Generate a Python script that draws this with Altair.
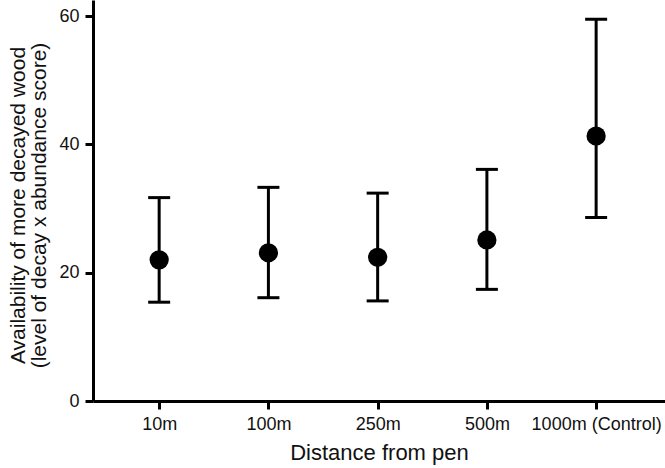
import altair as alt
import pandas as pd

# Distance classes and the decayed-wood score (mean with interval bounds)
categories = ["10m", "100m", "250m", "500m", "1000m (Control)"]
means = [22.0, 23.1, 22.4, 25.1, 41.3]
lower = [15.4, 16.1, 15.6, 17.4, 28.6]
upper = [31.7, 33.3, 32.4, 36.1, 59.5]

df = pd.DataFrame({"distance": categories, "mean": means, "low": lower, "high": upper})

FONT = "Liberation Sans"

x_enc = alt.X(
    "distance:O",
    sort=categories,
    scale=alt.Scale(type="point", padding=0.618, align=0.49),
    axis=alt.Axis(
        title="Distance from pen",
        labelAngle=0,
        labelFontSize=18,
        labelPadding=6,
        titleFontSize=22,
        titlePadding=9,
        titleFontWeight="normal",
    ),
)

y_scale = alt.Scale(domain=[0, 62.5], nice=False)
y_axis = alt.Axis(
    title=["Availability of more decayed wood", "(level of decay x abundance score)"],
    values=[0, 20, 40, 60],
    labelFontSize=18,
    labelPadding=6,
    titleFontSize=21,
    titleFontWeight="normal",
    titlePadding=9,
    titleLineHeight=21,
    titleY=205,
)

base = alt.Chart(df)

bars = base.mark_rule(color="black", strokeWidth=3).encode(
    x=x_enc,
    y=alt.Y("low:Q", scale=y_scale, axis=y_axis),
    y2="high:Q",
)

cap_low = base.mark_tick(color="black", size=22, thickness=3, opacity=1).encode(
    x=alt.X("distance:O", sort=categories), y=alt.Y("low:Q")
)
cap_high = base.mark_tick(color="black", size=22, thickness=3, opacity=1).encode(
    x=alt.X("distance:O", sort=categories), y=alt.Y("high:Q")
)

dots = base.mark_circle(color="black", size=370, opacity=1).encode(
    x=alt.X("distance:O", sort=categories), y=alt.Y("mean:Q")
)

chart = (
    alt.layer(bars, cap_low, cap_high, dots)
    .properties(
        width=572,
        height=401,
        padding={"left": 93, "top": 0, "right": 0, "bottom": 67},
        autosize=alt.AutoSizeParams(type="none"),
        background="white",
    )
    .configure_view(stroke=None)
    .configure_axis(
        grid=False,
        domainColor="black",
        domainWidth=3,
        tickColor="black",
        tickWidth=3,
        tickSize=8,
        labelColor="#111111",
        titleColor="#111111",
        labelFont=FONT,
        titleFont=FONT,
    )
)

chart.save("out.html", embed_options={"renderer": "svg", "actions": False})
